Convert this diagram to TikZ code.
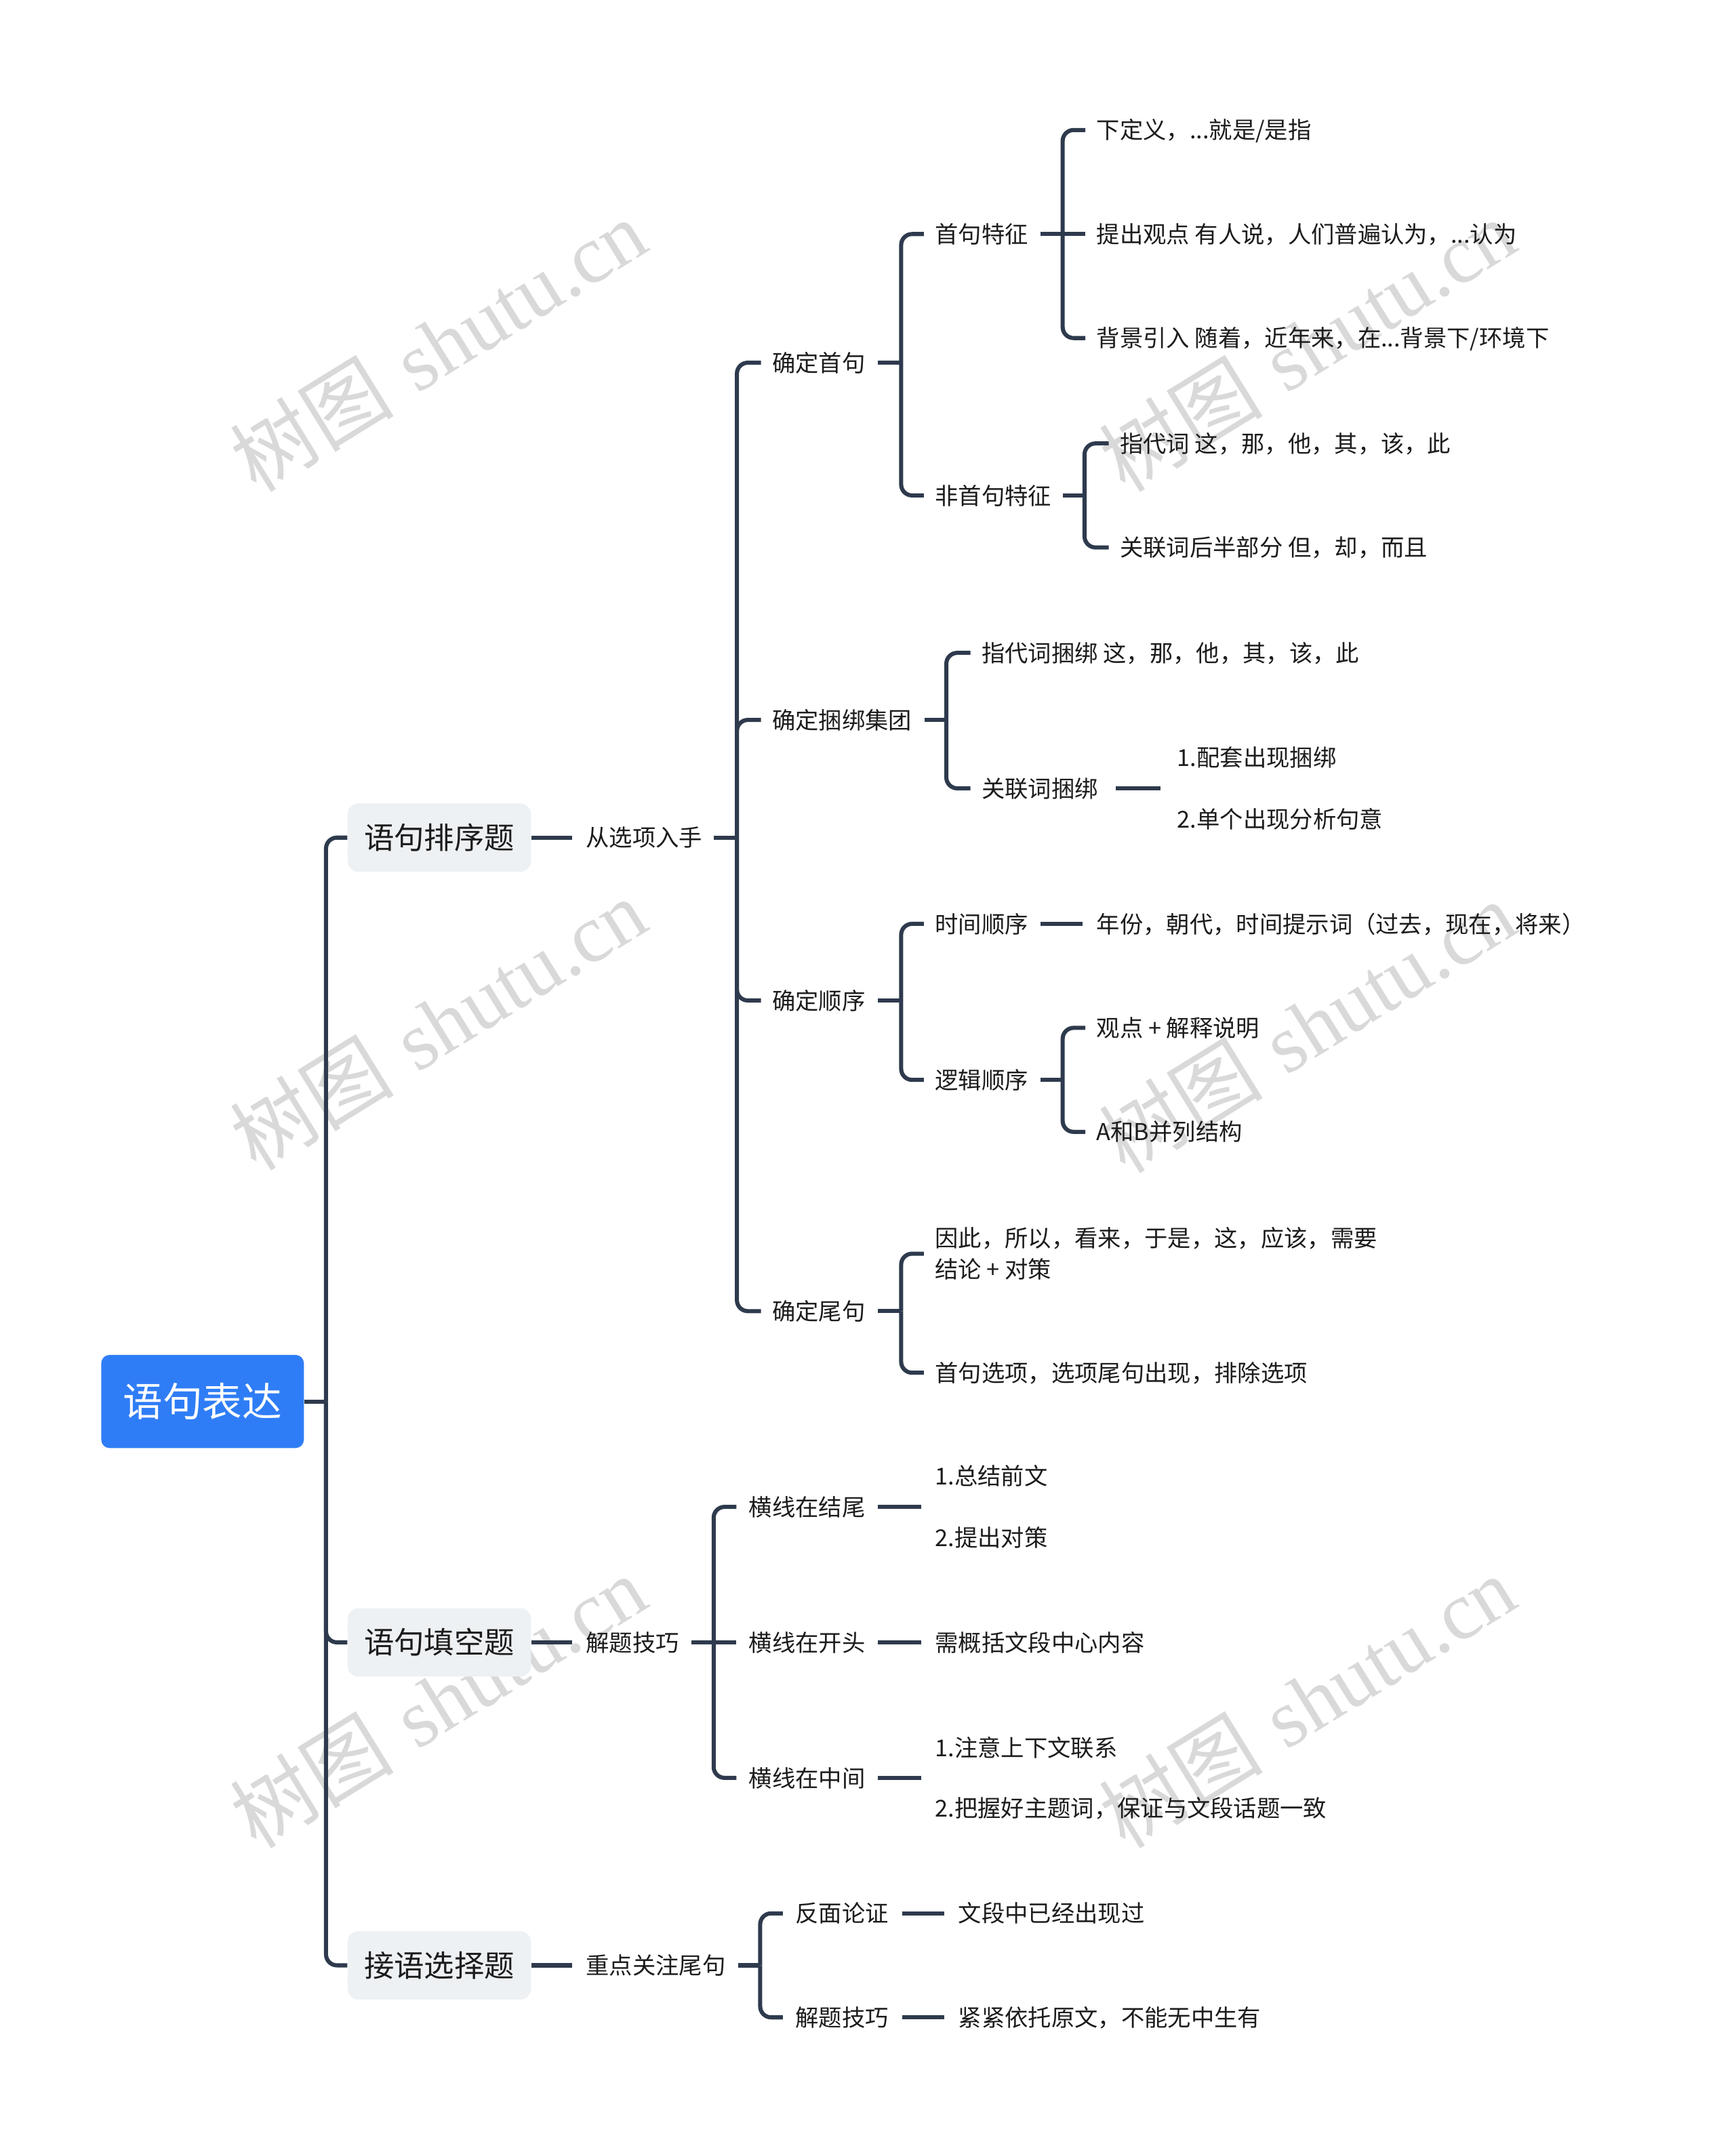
\documentclass[tikz,border=0pt]{standalone}
\usepackage{fontspec}
\newfontfamily\cjk{Noto Sans CJK SC}
\newfontfamily\wmserif{Liberation Serif}
\usetikzlibrary{calc}
\definecolor{ln}{HTML}{2E3A4D}
\definecolor{tx}{HTML}{1C1C1C}
\definecolor{rootc}{HTML}{2F7DF6}
\definecolor{boxc}{HTML}{EEF1F4}
\definecolor{wm}{HTML}{D9D9D9}
\begin{document}
\begin{tikzpicture}[x=1pt,y=-1pt,
  conn/.style={draw=ln,line width=3pt,rounded corners=8pt},
  txt/.style={anchor=west,inner sep=0pt,text=tx,font=\cjk\fontsize{17}{22}\selectfont,text height=15pt,text depth=2pt},
  txtwo/.style={anchor=west,inner sep=0pt,text=tx,align=left,font=\cjk\fontsize{17}{#1}\selectfont},
  rootbox/.style={fill=rootc,rounded corners=6pt,minimum width=148pt,minimum height=68pt,inner sep=0pt,text=white,font=\cjk\fontsize{29}{34}\selectfont},
  lonebox/.style={fill=boxc,rounded corners=8pt,minimum width=134pt,minimum height=50pt,inner sep=0pt,text=tx,font=\cjk\fontsize{22}{26}\selectfont},
  wmk/.style={rotate=31.7,text=wm,inner sep=0pt,font=\fontsize{60}{60}\selectfont}
]
\fill[white] (0,0) rectangle (1268,1568);
\path[use as bounding box] (0,0) rectangle (1268,1568);

% watermarks
\foreach \wx/\wy [count=\i] in {320/252,320/748,320/1243,955/252,955/750,955/1243}
  \node[wmk] (wm\i) at (\wx,\wy) {{\cjk 树图} {\wmserif shutu.cn}};

% root and level 1
\node[rootbox] (root) at (148,1024) {语句表达};
\node[lonebox] (a) at (321,612) {语句排序题};
\node[lonebox] (b) at (321,1200) {语句填空题};
\node[lonebox] (c) at (321,1436) {接语选择题};

% branch a
\node[txt] (n1) at (428,612) {从选项入手};
\node[txt] (c1) at (564,265) {确定首句};
\node[txt] (c2) at (564,526) {确定捆绑集团};
\node[txt] (c3) at (564,731) {确定顺序};
\node[txt] (c4) at (564,958) {确定尾句};

\node[txt] (d1) at (683,171) {首句特征};
\node[txt] (d2) at (683,362) {非首句特征};
\node[txt] (e1) at (801,95) {下定义，...就是/是指};
\node[txt] (e2) at (801,171) {提出观点 有人说，人们普遍认为，...认为};
\node[txt] (e3) at (801,247) {背景引入 随着，近年来，在...背景下/环境下};
\node[txt] (e4) at (818,324) {指代词 这，那，他，其，该，此};
\node[txt] (e5) at (818,400) {关联词后半部分 但，却，而且};

\node[txt] (d3) at (717,477) {指代词捆绑 这，那，他，其，该，此};
\node[txt] (d4) at (717,576) {关联词捆绑};
\node[txtwo=45] (e6) at (860,576) {1.配套出现捆绑\\2.单个出现分析句意};

\node[txt] (d5) at (683,675) {时间顺序};
\node[txt] (d6) at (683,789) {逻辑顺序};
\node[txt] (e7) at (801,675) {年份，朝代，时间提示词（过去，现在，将来）};
\node[txt] (e8) at (801,751) {观点 + 解释说明};
\node[txt] (e9) at (801,827) {A和B并列结构};

\node[txtwo=23] (d7) at (683,916) {因此，所以，看来，于是，这，应该，需要\\结论 + 对策};
\node[txt] (d8) at (683,1003) {首句选项，选项尾句出现，排除选项};

% branch b
\node[txt] (n2) at (428,1200) {解题技巧};
\node[txt] (f1) at (547,1101) {横线在结尾};
\node[txt] (f2) at (547,1200) {横线在开头};
\node[txt] (f3) at (547,1299) {横线在中间};
\node[txtwo=45] (g1) at (683,1101) {1.总结前文\\2.提出对策};
\node[txt] (g2) at (683,1200) {需概括文段中心内容};
\node[txtwo=44] (g3) at (683,1299) {1.注意上下文联系\\2.把握好主题词，保证与文段话题一致};

% branch c
\node[txt] (n3) at (428,1436) {重点关注尾句};
\node[txt] (h1) at (581,1398) {反面论证};
\node[txt] (h2) at (581,1474) {解题技巧};
\node[txt] (i1) at (700,1398) {文段中已经出现过};
\node[txt] (i2) at (700,1474) {紧紧依托原文，不能无中生有};

% ---- connectors ----
\draw[conn] (root.east) -- ++(16,0) coordinate (j0);
\foreach \t in {a,b,c} \draw[conn] (j0) |- (\t.west);

\draw[conn] (a.east) -- ($(n1.west)+(-10,0)$);
\draw[conn] ($(n1.east)+(8,0)$) -- ++(17,0) coordinate (j1);
\foreach \t in {c1,c2,c3,c4} \draw[conn] (j1) |- ($(\t.west)+(-8,0)$);

\draw[conn] ($(c1.east)+(9,0)$) -- ++(17,0) coordinate (j2);
\foreach \t in {d1,d2} \draw[conn] (j2) |- ($(\t.west)+(-8,0)$);

\draw[conn] ($(d1.east)+(9,0)$) -- ++(16,0) coordinate (j3);
\draw[conn] (j3) |- ($(e1.west)+(-8,0)$);
\draw[conn] (j3) -- ($(e2.west)+(-8,0)$);
\draw[conn] (j3) |- ($(e3.west)+(-8,0)$);

\draw[conn] ($(d2.east)+(8,0)$) -- ++(16,0) coordinate (j4);
\foreach \t in {e4,e5} \draw[conn] (j4) |- ($(\t.west)+(-8,0)$);

\draw[conn] ($(c2.east)+(9,0)$) -- ++(16,0) coordinate (j5);
\foreach \t in {d3,d4} \draw[conn] (j5) |- ($(\t.west)+(-8,0)$);
\draw[conn] ($(d4.east)+(13,0)$) -- ($(e6.west)+(-12,0)$);

\draw[conn] ($(c3.east)+(9,0)$) -- ++(17,0) coordinate (j6);
\foreach \t in {d5,d6} \draw[conn] (j6) |- ($(\t.west)+(-8,0)$);
\draw[conn] ($(d5.east)+(9,0)$) -- ($(e7.west)+(-10,0)$);
\draw[conn] ($(d6.east)+(9,0)$) -- ++(16,0) coordinate (j7);
\foreach \t in {e8,e9} \draw[conn] (j7) |- ($(\t.west)+(-8,0)$);

\draw[conn] ($(c4.east)+(9,0)$) -- ++(17,0) coordinate (j8);
\foreach \t in {d7,d8} \draw[conn] (j8) |- ($(\t.west)+(-8,0)$);

\draw[conn] (b.east) -- ($(n2.west)+(-10,0)$);
\draw[conn] ($(n2.east)+(9,0)$) -- ++(16,0) coordinate (j9);
\draw[conn] (j9) |- ($(f1.west)+(-9,0)$);
\draw[conn] (j9) -- ($(f2.west)+(-9,0)$);
\draw[conn] (j9) |- ($(f3.west)+(-9,0)$);
\draw[conn] ($(f1.east)+(9,0)$) -- ($(g1.west)+(-10,0)$);
\draw[conn] ($(f2.east)+(9,0)$) -- ($(g2.west)+(-10,0)$);
\draw[conn] ($(f3.east)+(9,0)$) -- ($(g3.west)+(-10,0)$);

\draw[conn] (c.east) -- ($(n3.west)+(-10,0)$);
\draw[conn] ($(n3.east)+(9,0)$) -- ++(16,0) coordinate (j10);
\foreach \t in {h1,h2} \draw[conn] (j10) |- ($(\t.west)+(-9,0)$);
\draw[conn] ($(h1.east)+(10,0)$) -- ($(i1.west)+(-10,0)$);
\draw[conn] ($(h2.east)+(10,0)$) -- ($(i2.west)+(-10,0)$);
\end{tikzpicture}
\end{document}
